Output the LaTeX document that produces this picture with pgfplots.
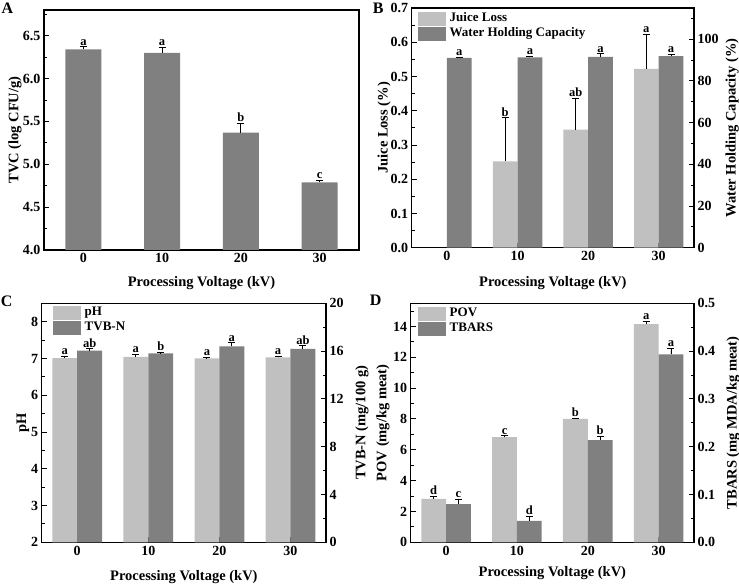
\documentclass[border=0pt]{standalone}
\usepackage{fontspec}
\setmainfont{Liberation Serif}
\usepackage{pgfplots}
\usepackage{pgfplotstable}
\pgfplotsset{compat=1.18}
\definecolor{lg}{RGB}{192,192,192}
\definecolor{dg}{RGB}{128,128,128}
\newcommand{\tfont}{\fontsize{14}{16}\selectfont\bfseries}
\newcommand{\lfont}{\fontsize{14.5}{16}\selectfont\bfseries}
\newcommand{\sfont}{\fontsize{12.5}{14}\selectfont\bfseries}
\newcommand{\gfont}{\fontsize{13}{14}\selectfont\bfseries}

\pgfplotstableread[row sep=\\]{x y e l\\ 0 6.34 0.03 a\\ 10 6.30 0.06 a\\ 20 5.37 0.11 b\\ 30 4.79 0.02 c\\}\dataA
\pgfplotstableread[row sep=\\]{x y e l\\ 8.25 0.252 0.127 b\\ 18.25 0.345 0.092 ab\\ 28.25 0.522 0.100 a\\}\dataJL
\pgfplotstableread[row sep=\\]{x y e l\\ 1.75 91.1 0.4 a\\ 11.75 91.3 0.5 a\\ 21.75 91.5 1.5 a\\ 31.75 91.9 0.7 a\\}\dataWHC
\pgfplotstableread[row sep=\\]{x y e l\\ -1.75 7.01 0.05 a\\ 8.25 7.04 0.06 a\\ 18.25 7.00 0.02 a\\ 28.25 7.03 0.03 a\\}\dataPH
\pgfplotstableread[row sep=\\]{x y e l\\ 1.75 16.03 0.16 ab\\ 11.75 15.80 0.06 b\\ 21.75 16.39 0.30 a\\ 31.75 16.19 0.25 ab\\}\dataTVB
\pgfplotstableread[row sep=\\]{x y e l\\ -1.75 2.81 0.18 d\\ 8.25 6.82 0.08 c\\ 18.25 8.00 0.05 b\\ 28.25 14.15 0.17 a\\}\dataPOV
\pgfplotstableread[row sep=\\]{x y e l\\ 1.75 0.080 0.009 c\\ 11.75 0.045 0.009 d\\ 21.75 0.214 0.007 b\\ 31.75 0.393 0.013 a\\}\dataTB

\pgfplotsset{
  common/.style={
    scale only axis, anchor=south west,
    xmin=-5, xmax=35, xtick={0,10,20,30},
    tick align=inside,
    major tick length=5pt, minor tick length=3pt,
    every tick/.style={black, line width=0.9pt},
    axis line style={line width=1.1pt, black},
    ticklabel style={font=\tfont, black},
    /pgf/number format/assume math mode=true,
    clip=false,
  },
  lefta/.style={common, xtick pos=bottom, ytick pos=left,
    xlabel={Processing Voltage (kV)}},
  righta/.style={common, axis x line=none, axis y line*=right},
  dec1/.style={yticklabel style={/pgf/number format/.cd, fixed, fixed zerofill, precision=1}},
  ylab/.style={every axis y label/.style={at={(axis description cs:#1,0.5)}, anchor=center, rotate=90, font=\lfont}},
  xlab/.style={every axis x label/.style={at={(axis description cs:0.5,#1)}, anchor=center, font=\lfont}},
  errs/.style={error bars/y dir=plus, error bars/y explicit,
    error bars/error bar style={line width=0.9pt, black},
    error bars/error mark options={rotate=90, mark size=3.5pt, line width=0.9pt, black}},
  barL/.style={ybar, bar width=3.5, bar shift=0pt, fill=lg, draw=none, forget plot, errs},
  barD/.style={ybar, bar width=3.5, bar shift=0pt, fill=dg, draw=none, forget plot, errs},
  lett/.style={draw=none, mark=none, forget plot, nodes near coords, point meta=explicit symbolic,
    nodes near coords style={font=\sfont, anchor=south, inner sep=1.5pt, black}},
  lgpatch/.style={legend image code/.code={\fill[lg] (0pt,-6.5pt) rectangle (27pt,6.5pt); \path (31pt,0pt);}},
  dgpatch/.style={legend image code/.code={\fill[dg] (0pt,-6.5pt) rectangle (27pt,6.5pt); \path (31pt,0pt);}},
  leg/.style 2 args={legend style={at={(0,1)}, anchor=north west, xshift=#1, yshift=#2,
    draw=none, fill=none, inner sep=0pt, outer sep=0pt, font=\gfont, row sep=1.5pt,
    nodes={inner sep=0pt, text height=9.5pt, text depth=3.5pt}}, legend cell align=left},
}

\begin{document}
\begin{tikzpicture}
\path[use as bounding box] (0pt,0pt) rectangle (739pt,585pt);

% ---------------- A ----------------
\begin{axis}[lefta, at={(44pt,335pt)}, width=315pt, height=240pt,
  ymin=4, ymax=6.8, ytick={4,4.5,...,6.5}, minor ytick={4.25,4.75,...,6.75}, dec1,
  ylabel={TVC (log CFU/g)}, ylab=-0.092, xlab=-0.136]
\addplot[ybar, bar width=4.6, bar shift=0pt, fill=dg, draw=none, errs] table[x=x,y=y,y error=e]{\dataA};
\addplot[lett] table[x=x, y expr=\thisrow{y}+\thisrow{e}, meta=l]{\dataA};
\end{axis}

% ---------------- B ----------------
\begin{axis}[lefta, at={(411.7pt,337.3pt)}, width=282.3pt, height=239.7pt,
  ymin=0, ymax=0.7, ytick={0,0.1,...,0.71}, minor ytick={0.05,0.15,...,0.66}, dec1,
  ylabel={Juice Loss (\%)}, ylab=-0.098, xlab=-0.147]
\addplot[barL] table[x=x,y=y,y error=e]{\dataJL};
\addplot[lett] table[x=x, y expr=\thisrow{y}+\thisrow{e}, meta=l]{\dataJL};
\end{axis}
\begin{axis}[righta, at={(411.7pt,337.3pt)}, width=282.3pt, height=239.7pt,
  ymin=0, ymax=115, ytick={0,20,...,100}, minor ytick={10,30,...,110},
  ylabel={Water Holding Capacity (\%)}, ylab=1.135, leg={6.6pt}{-3.7pt}]
\addlegendimage{lgpatch}\addlegendentry{Juice Loss}
\addlegendimage{dgpatch}\addlegendentry{Water Holding Capacity}
\addplot[barD] table[x=x,y=y,y error=e]{\dataWHC};
\addplot[lett] table[x=x, y expr=\thisrow{y}+\thisrow{e}, meta=l]{\dataWHC};
\end{axis}

% ---------------- C ----------------
\begin{axis}[lefta, at={(41.7pt,42.7pt)}, width=284.3pt, height=239pt,
  ymin=2, ymax=8.5, ytick={2,...,8}, minor ytick={2.5,3.5,...,7.5},
  ylabel={pH}, ylab=-0.066, xlab=-0.146]
\addplot[barL] table[x=x,y=y,y error=e]{\dataPH};
\addplot[lett] table[x=x, y expr=\thisrow{y}+\thisrow{e}, meta=l]{\dataPH};
\end{axis}
\begin{axis}[righta, at={(41.7pt,42.7pt)}, width=284.3pt, height=239pt,
  ymin=0, ymax=20, ytick={0,4,...,20}, minor ytick={2,6,...,18},
  ylabel={TVB-N (mg/100 g)}, ylab=1.126, leg={11.6pt}{-2.7pt}]
\addlegendimage{lgpatch}\addlegendentry{pH}
\addlegendimage{dgpatch}\addlegendentry{TVB-N}
\addplot[barD] table[x=x,y=y,y error=e]{\dataTVB};
\addplot[lett] table[x=x, y expr=\thisrow{y}+\thisrow{e}, meta=l]{\dataTVB};
\end{axis}

% ---------------- D ----------------
\begin{axis}[lefta, at={(410.7pt,42.7pt)}, width=283.3pt, height=239pt,
  ymin=0, ymax=15.5, ytick={0,2,...,14}, minor ytick={1,3,...,15},
  ylabel={POV (mg/kg meat)}, ylab=-0.098, xlab=-0.13]
\addplot[barL] table[x=x,y=y,y error=e]{\dataPOV};
\addplot[lett] table[x=x, y expr=\thisrow{y}+\thisrow{e}, meta=l]{\dataPOV};
\end{axis}
\begin{axis}[righta, at={(410.7pt,42.7pt)}, width=283.3pt, height=239pt,
  ymin=0, ymax=0.5, ytick={0,0.1,...,0.51}, minor ytick={0.05,0.15,...,0.46}, dec1,
  ylabel={TBARS (mg MDA/kg meat)}, ylab=1.138, leg={7.6pt}{-3.4pt}]
\addlegendimage{lgpatch}\addlegendentry{POV}
\addlegendimage{dgpatch}\addlegendentry{TBARS}
\addplot[barD] table[x=x,y=y,y error=e]{\dataTB};
\addplot[lett] table[x=x, y expr=\thisrow{y}+\thisrow{e}, meta=l]{\dataTB};
\end{axis}

% panel letters
\node[font=\fontsize{16}{18}\selectfont\bfseries] at (7.5pt,576.7pt) {A};
\node[font=\fontsize{16}{18}\selectfont\bfseries] at (378.3pt,577pt) {B};
\node[font=\fontsize{16}{18}\selectfont\bfseries] at (6.7pt,283.7pt) {C};
\node[font=\fontsize{16}{18}\selectfont\bfseries] at (375.7pt,285pt) {D};
\end{tikzpicture}
\end{document}
